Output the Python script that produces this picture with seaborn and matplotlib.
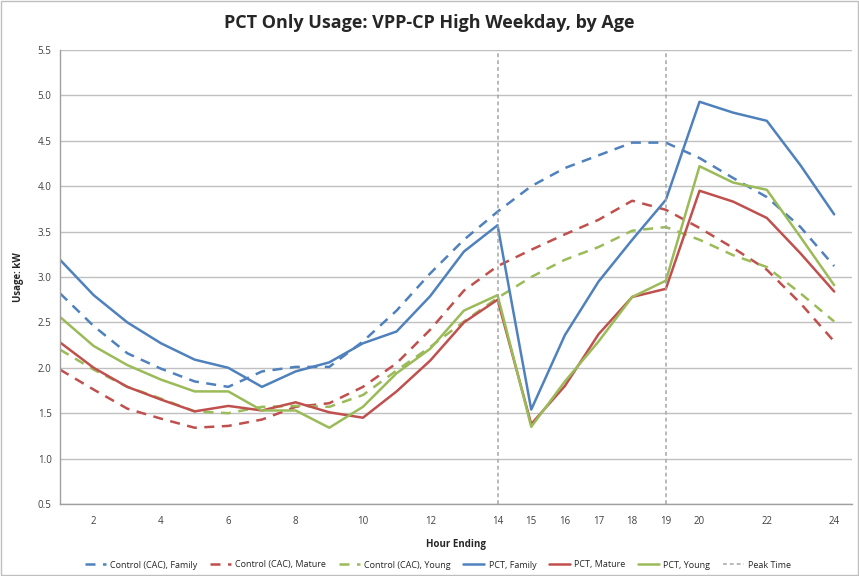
import numpy as np
import pandas as pd
import seaborn as sns
import matplotlib.pyplot as plt

sns.set_theme(style="white")
plt.rcParams["font.family"] = ["Open Sans", "DejaVu Sans"]

# dane (godziny 1-24)
hours = list(range(1, 25))
control_family = [2.82, 2.46, 2.16, 1.99, 1.85, 1.79, 1.96, 2.01, 2.01, 2.29, 2.63, 3.04,
                  3.41, 3.72, 4.00, 4.20, 4.34, 4.48, 4.48, 4.31, 4.09, 3.88, 3.55, 3.12]
control_mature = [1.98, 1.76, 1.55, 1.44, 1.34, 1.36, 1.43, 1.57, 1.61, 1.79, 2.05, 2.42,
                  2.85, 3.12, 3.30, 3.47, 3.63, 3.84, 3.74, 3.54, 3.32, 3.08, 2.71, 2.29]
control_young = [2.20, 1.98, 1.79, 1.66, 1.52, 1.50, 1.57, 1.58, 1.57, 1.70, 1.97, 2.23,
                 2.51, 2.77, 3.00, 3.19, 3.33, 3.51, 3.55, 3.41, 3.24, 3.11, 2.82, 2.51]
pct_family = [3.19, 2.80, 2.50, 2.27, 2.09, 2.00, 1.79, 1.96, 2.06, 2.27, 2.40, 2.79,
              3.28, 3.57, 1.54, 2.36, 2.95, 3.41, 3.85, 4.93, 4.81, 4.72, 4.23, 3.69]
pct_mature = [2.28, 2.00, 1.79, 1.65, 1.52, 1.58, 1.53, 1.62, 1.51, 1.45, 1.74, 2.08,
              2.50, 2.75, 1.38, 1.80, 2.37, 2.78, 2.87, 3.95, 3.83, 3.65, 3.26, 2.84]
pct_young = [2.56, 2.24, 2.03, 1.87, 1.74, 1.74, 1.53, 1.53, 1.34, 1.57, 1.94, 2.21,
             2.63, 2.80, 1.35, 1.85, 2.29, 2.78, 2.96, 4.22, 4.04, 3.96, 3.44, 2.91]
peak_hours = [14, 19]

x_ticks = [2, 4, 6, 8, 10, 12, 14, 15, 16, 17, 18, 19, 20, 22, 24]
y_ticks = [0.5, 1.0, 1.5, 2.0, 2.5, 3.0, 3.5, 4.0, 4.5, 5.0, 5.5]

blue, red, green, grey = "#4F81BD", "#C0504D", "#9BBB59", "#A6A6A6"

series = [
    ("Control (CAC), Family", control_family, blue, True),
    ("Control (CAC), Mature", control_mature, red, True),
    ("Control (CAC), Young", control_young, green, True),
    ("PCT, Family", pct_family, blue, False),
    ("PCT, Mature", pct_mature, red, False),
    ("PCT, Young", pct_young, green, False),
]

fig = plt.figure(figsize=(8.59, 5.76), dpi=100)
ax = fig.add_axes([60 / 859, 1 - 504 / 576, 792 / 859, 454 / 576])

for name, vals, col, dashed in series:
    ln = sns.lineplot(x=hours, y=vals, ax=ax, color=col, linewidth=1.8, label=name)
    if dashed:
        ln.lines[-1].set_dashes([4, 3])

for h in peak_hours:
    ax.axvline(h, color=grey, linestyle=(0, (2.5, 2)), linewidth=1.1)
ax.plot([], [], color=grey, linestyle=(0, (2.5, 2)), linewidth=1.1, label="Peak Time")

ax.set_xlim(1, 24.53)
ax.set_ylim(0.5, 5.5)
ax.set_xticks(x_ticks)
ax.set_xticks(hours, minor=True)
ax.set_yticks(y_ticks)
ax.set_yticklabels([f"{v:.1f}" for v in y_ticks])
ax.tick_params(axis="both", labelsize=7, colors="#404040", length=0, pad=6)
ax.tick_params(axis="x", which="both", length=4, color="#A0A0A0", direction="out", pad=5)
ax.yaxis.grid(True, color="#C0C0C0", linewidth=1)
ax.xaxis.grid(False)
for s in ["top", "right"]:
    ax.spines[s].set_visible(False)
for s in ["left", "bottom"]:
    ax.spines[s].set_color("#A0A0A0")
    ax.spines[s].set_linewidth(1)

ax.set_xlabel("Hour Ending", fontsize=7, fontweight="bold", labelpad=8)
ax.set_ylabel("Usage: kW", fontsize=7, fontweight="bold", labelpad=10)
fig.suptitle("PCT Only Usage: VPP-CP High Weekday, by Age", fontsize=13,
             fontweight="bold", y=0.975)

handles, labels = ax.get_legend_handles_labels()
ax.get_legend().remove()
fig.legend(handles, labels, loc="center", bbox_to_anchor=(0.51, 1 - 565 / 576), ncol=7,
           frameon=False, fontsize=6.5, handlelength=2.3, handletextpad=0.5,
           columnspacing=1.4)

# cienka ramka wokół całego wykresu
fig.patches.append(plt.Rectangle((0.001, 0.001), 0.998, 0.998, transform=fig.transFigure,
                                 fill=False, edgecolor="#BFBFBF", linewidth=1))

fig.savefig("out.png", dpi=100)
